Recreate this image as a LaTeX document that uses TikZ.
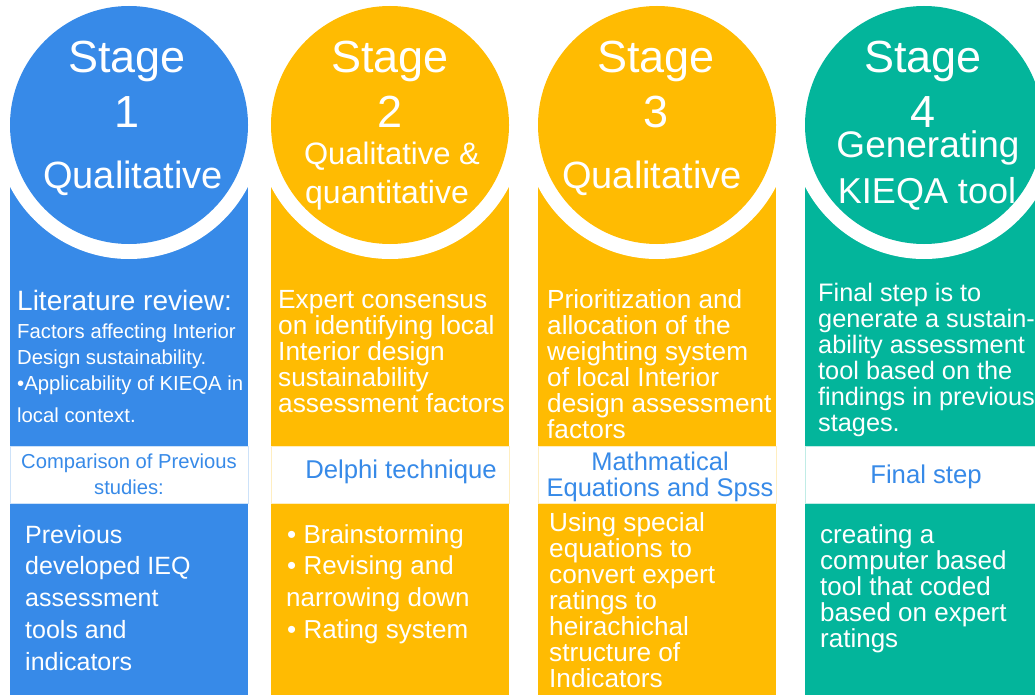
\documentclass[tikz,border=0pt]{standalone}
\usepackage{fontspec}
\setmainfont{Liberation Sans}
\definecolor{cblue}{HTML}{378AE8}
\definecolor{cyell}{HTML}{FFBB02}
\definecolor{cteal}{HTML}{03B59B}
\newcommand{\blk}[1]{\vtop{\let\\\cr\halign{##\hfil\cr #1\crcr}}}
\newcommand{\blc}[1]{\vtop{\let\\\cr\halign{\hfil##\hfil\cr #1\crcr}}}
\tikzset{
  x=1pt,y=-1pt,
  panel/.style={fill=#1,draw=none},
  bandbox/.style={fill=white,draw=#1!25,line width=0.7pt},
  halo/.style={circle,fill=white,minimum size=268pt,inner sep=0pt},
  disc/.style={circle,fill=#1,minimum size=238pt,inner sep=0pt},
  head/.style={text=white,inner sep=0pt,anchor=base,font=\fontsize{#1}{54.5}\selectfont},
  body/.style={text=white,inner sep=0pt,anchor=base west,font=\fontsize{#1}{26}\selectfont},
  bodyw/.style={text=white,inner sep=0pt,anchor=base west,font=\fontsize{#1}{31.8}\selectfont},
  band/.style 2 args={text=#1,inner sep=0pt,anchor=base,font=\fontsize{#2}{26}\selectfont},
}
\begin{document}
\begin{tikzpicture}
\clip (0,0) rectangle (1035,695);
\fill[white] (0,0) rectangle (1035,695);
% column 1
\fill[panel=cblue] (10,187) rectangle (248,695);
\node[halo] (h1) at (129,125) {};
\node[disc=cblue] (c1) at (129,125) {};
\draw[bandbox=cblue] (10,446) rectangle (248,503);
% column 2
\fill[panel=cyell] (271,187) rectangle (509,695);
\node[halo] (h2) at (390,125) {};
\node[disc=cyell] (c2) at (390,125) {};
\draw[bandbox=cyell] (271,446) rectangle (509,503);
% column 3
\fill[panel=cyell] (538,187) rectangle (776,695);
\node[halo] (h3) at (657,125) {};
\node[disc=cyell] (c3) at (657,125) {};
\draw[bandbox=cyell] (538,446) rectangle (776,503);
% column 4
\fill[panel=cteal] (805,187) rectangle (1043,695);
\node[halo] (h4) at (924,125) {};
\node[disc=cteal] (c4) at (924,125) {};
\draw[bandbox=cteal] (805,446) rectangle (1043,503);
% headings
\node[head=45] (s1) at (127,73) {\blc{Stage\\1}};
\node[head=38] (q1) at (133,189) {Qualitative};
\node[head=45] (s2) at (390,73) {\blc{Stage\\2}};
\node[head=31] (q2a) at (392,165) {Qualitative \&};
\node[head=32] (q2b) at (387,203) {quantitative};
\node[head=45] (s3) at (656,73) {\blc{Stage\\3}};
\node[head=38] (q3) at (652,189) {Qualitative};
\node[head=45] (s4) at (923,73) {\blc{Stage\\4}};
\node[head=37] (q4a) at (928,158) {Generating};
\node[head=36] (q4b) at (927,203) {KIEQA tool};
% upper bodies
\node[body=28] (u1a) at (17,310) {Literature review:};
\node[body=20.3] (u1b) at (17,338) {\blk{Factors affecting Interior\\Design sustainability.\\\textbullet Applicability of KIEQA in\\\noalign{\vskip6pt}local context.}};
\node[body=26.3] (u2) at (278,308.5) {\blk{Expert consensus\\on identifying local\\Interior design\\sustainability\\assessment factors}};
\node[body=26.2] (u3) at (547,308.5) {\blk{Prioritization and\\allocation of the\\weighting system\\of local Interior\\design assessment\\factors}};
\node[body=25.3] (u4) at (818,301.5) {\blk{Final step is to\\generate a sustain-\\ability assessment\\tool based on the\\findings in previous\\stages.}};
% white bands
\node[band={cblue}{20.2}] (b1) at (129,468) {\blc{Comparison of Previous\\studies:}};
\node[band={cblue}{25.7}] (b2) at (401,478) {Delphi technique};
\node[band={cblue}{25.5}] (b3) at (660,470) {\blc{Mathmatical\\Equations and Spss}};
\node[band={cblue}{25.7}] (b4) at (926,483) {Final step};
% lower bodies
\node[bodyw=25] (l1) at (25,543) {\blk{Previous\\developed IEQ\\assessment\\tools and\\indicators}};
\node[bodyw=26] (l2) at (286,543) {\blk{\kern1pt\textbullet\ Brainstorming\\\kern1pt\textbullet\ Revising and\\narrowing down\\\kern1pt\textbullet\ Rating system}};
\node[body=26.2] (l3) at (549,531) {\blk{Using special\\equations to\\convert expert\\ratings to\\heirachichal\\structure of\\Indicators}};
\node[body=26] (l4) at (820,543) {\blk{creating a\\computer based\\tool that coded\\based on expert\\ratings}};
\end{tikzpicture}
\end{document}
